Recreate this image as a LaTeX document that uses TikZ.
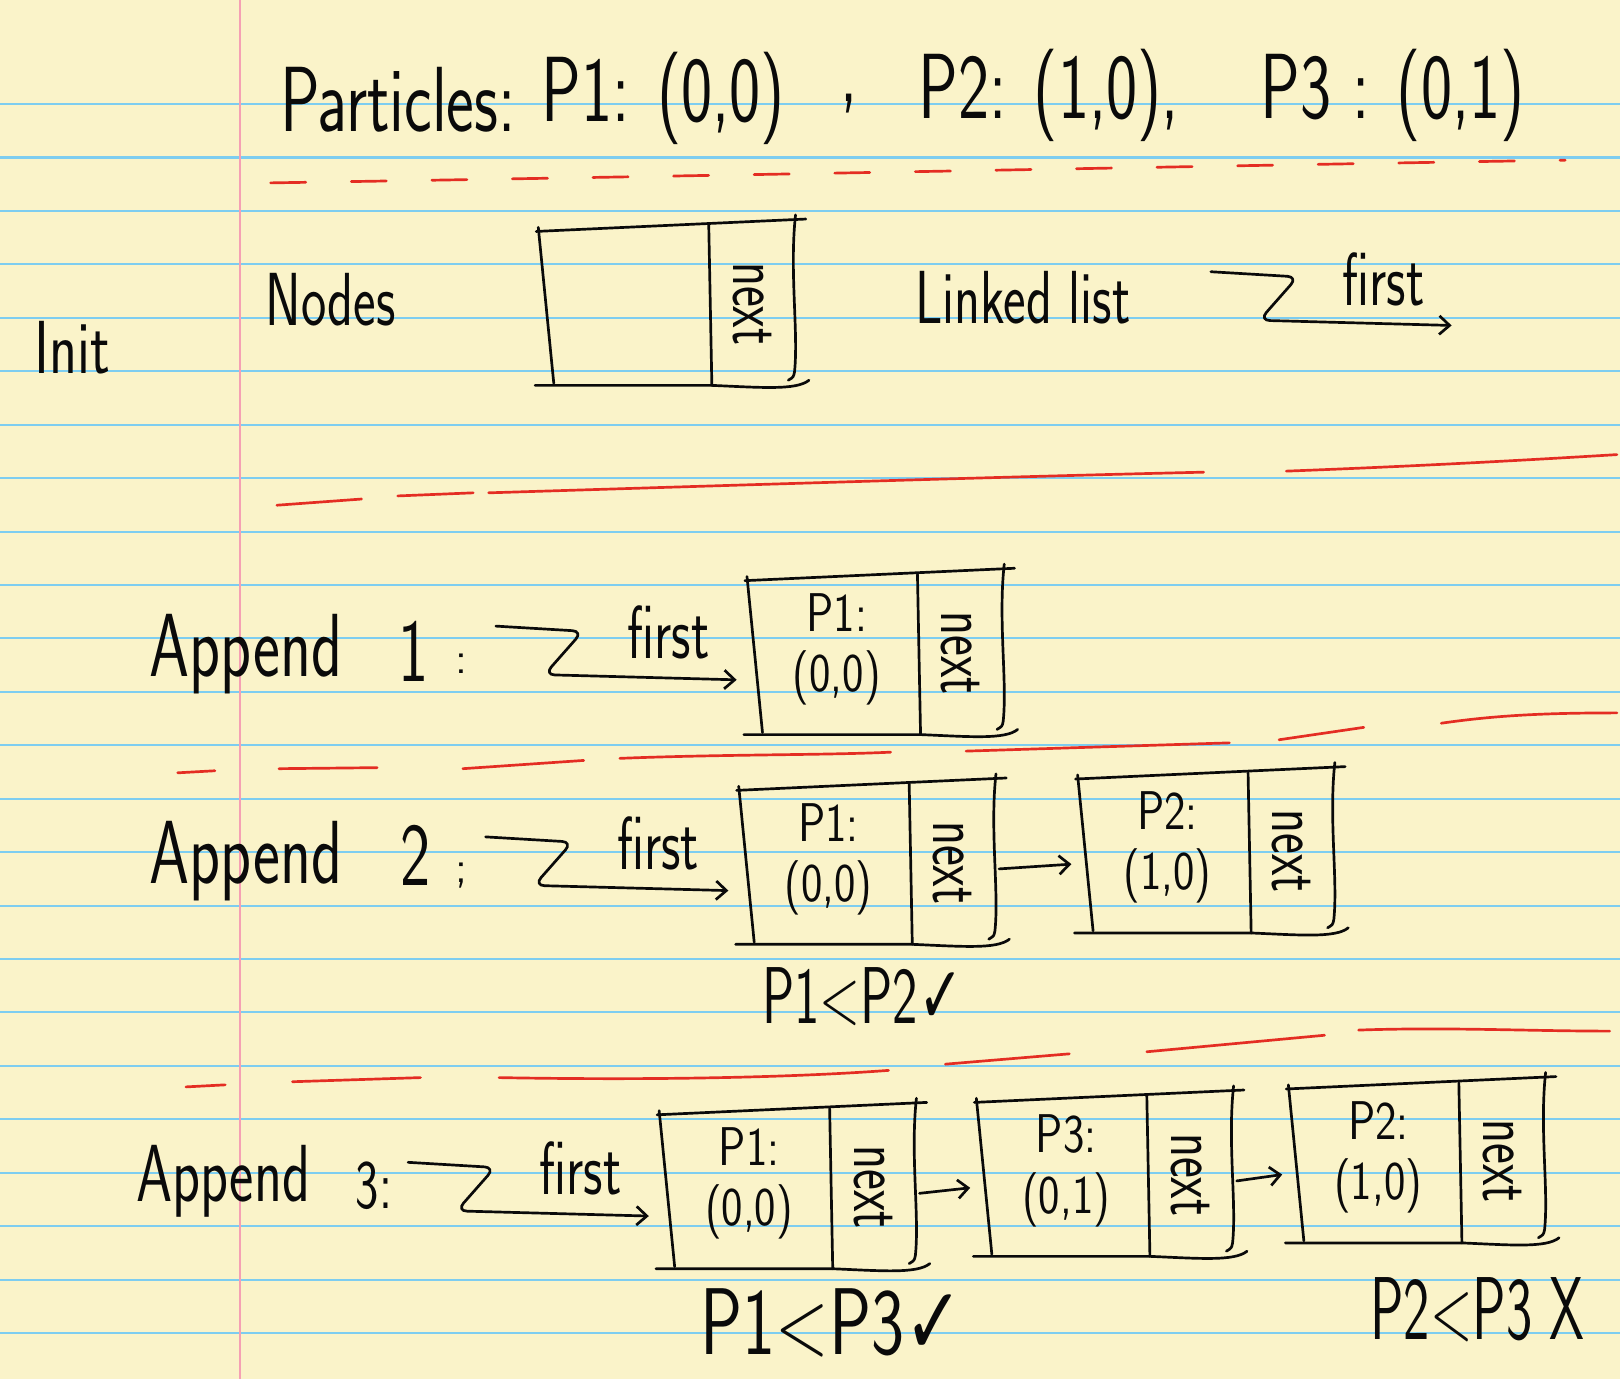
\documentclass[tikz,border=0pt]{standalone}
\usepackage{fontspec}
\usepackage{graphicx}
\usetikzlibrary{arrows.meta}
\newfontfamily\symf{DejaVu Sans}
\definecolor{paper}{RGB}{250,243,201}
\definecolor{rulecol}{RGB}{125,205,240}
\definecolor{margincol}{RGB}{245,160,180}
\definecolor{redpen}{RGB}{228,45,35}
\definecolor{ink}{RGB}{10,10,10}
\newcommand\stretchy[2]{\scalebox{1}[#1]{#2}}
\newcommand\cellfont{\sffamily\fontsize{22}{26}\selectfont}
\newcommand\nextfont{\sffamily\fontsize{24}{28}\selectfont}
\newcommand\firstfont{\sffamily\fontsize{26}{30}\selectfont}
\tikzset{
 pen/.style={draw=ink, line width=1.3pt, line cap=round, line join=round},
 redmark/.style={draw=redpen, line width=1.3pt, line cap=round},
 hand/.style={inner sep=0pt, text=ink, font=\sffamily},
 arr/.style={pen, -{Straight Barb[length=5pt,width=9pt]}},
}
\newcommand\cellframe[3]{%
\begin{scope}[shift={(#2,#3)}]
 \draw[pen] (-2,2) -- (259,-10);
 \draw[pen] (0,-2) -- (15,149);
 \draw[pen] (-3,151) -- (168,151) .. controls (215,153) and (250,156) .. (262,146);
 \draw[pen] (165,-4) -- (168,151);
 \draw[pen] (249,-14) .. controls (243,40) and (252,100) .. (248,138) .. controls (247,143) .. (242,146);
 \node[hand, rotate=-90, font=\nextfont] (#1-next) at (207,72) {\stretchy{1.4}{next}};
 \coordinate (#1-in) at (0,84);
 \coordinate (#1-out) at (252,78);
 \coordinate (#1-top) at (87,33);
 \coordinate (#1-bot) at (87,96);
\end{scope}}
\newcommand\cellvals[3]{%
 \node[hand, font=\cellfont] (#1-lab) at (#1-top) {\stretchy{1.2}{#2}};
 \node[hand, font=\cellfont] (#1-val) at (#1-bot) {\stretchy{1.2}{#3}};}
\begin{document}
\begin{tikzpicture}[x=0.5pt,y=-0.5pt]
\fill[paper] (0,0) rectangle (1568,1335);
\useasboundingbox (0,0) rectangle (1568,1335);
\foreach \k in {0,...,23} \draw[rulecol, line width=1pt] (0,{100.7+51.72*\k}) -- (1568,{100.7+51.72*\k});
\draw[margincol, line width=1pt] (232.3,0) -- (232.3,1335);

% title
\begin{scope}[every node/.style={hand, font=\sffamily\fontsize{32}{36}\selectfont}]
\node (t1) at (385,97) {\stretchy{1.4}{Particles:}};
\node (t2) at (642,95) {\stretchy{1.4}{P1: (0,0)}};
\node (t3) at (822,100) {\stretchy{1.4}{,}};
\node (t4) at (1015,92) {\stretchy{1.4}{P2: (1,0),}};
\node (t5) at (1348,92) {\stretchy{1.4}{P3 : (0,1)}};
\end{scope}

% red separators
\draw[redmark, dash pattern=on 17pt off 22pt] (262,177) .. controls (700,170) and (1200,160) .. (1515,155);
\draw[redmark] (268,489) -- (350,483);
\draw[redmark] (385,480) -- (458,477);
\draw[redmark] (473,477) .. controls (700,470) and (950,462) .. (1165,457);
\draw[redmark] (1245,456) .. controls (1350,452) and (1450,447) .. (1565,440);
\draw[redmark] (172,748) -- (208,746);
\draw[redmark] (270,744) -- (365,743);
\draw[redmark] (448,744) -- (565,736);
\draw[redmark] (600,734) .. controls (700,730) and (800,731) .. (862,728);
\draw[redmark] (935,727) -- (1190,719);
\draw[redmark] (1238,716) -- (1320,704);
\draw[redmark] (1395,700) .. controls (1450,692) and (1500,690) .. (1565,690);
\draw[redmark] (180,1052) -- (218,1050);
\draw[redmark] (283,1047) -- (407,1043);
\draw[redmark] (483,1043) .. controls (650,1046) and (780,1042) .. (860,1036);
\draw[redmark] (915,1030) -- (1035,1020);
\draw[redmark] (1110,1018) -- (1282,1002);
\draw[redmark] (1315,997) .. controls (1400,994) and (1480,998) .. (1558,998);

% Init row
\node[hand, font=\sffamily\fontsize{28}{32}\selectfont] (init) at (70,337) {\stretchy{1.3}{Init}};
\node[hand, font=\sffamily\fontsize{26}{30}\selectfont] (nodes) at (320,290) {\stretchy{1.4}{Nodes}};
\cellframe{c0}{521}{222}
\node[hand, font=\sffamily\fontsize{26}{30}\selectfont] (ll) at (990,288) {\stretchy{1.4}{Linked list}};
\coordinate (z0s) at (1172,263);
\coordinate (z0e) at (1405,315);
\draw[arr, rounded corners=5pt] (z0s) -- ++(84,5) -- ++(-37,42) -- (z0e);
\node[hand, font=\firstfont] (f0) at (1339,270) {\stretchy{1.4}{first}};

% Append 1
\node[hand, font=\sffamily\fontsize{31}{35}\selectfont] (ap1) at (238,633) {\stretchy{1.4}{Append}};
\node[hand, font=\sffamily\fontsize{31}{35}\selectfont] (ap1n) at (400,630) {\stretchy{1.4}{1}};
\node[hand, font=\sffamily\fontsize{22}{26}\selectfont] (ap1c) at (447,642) {:};
\coordinate (z1s) at (480,606);
\coordinate (z1e) at (713,658);
\draw[arr, rounded corners=5pt] (z1s) -- ++(84,5) -- ++(-37,42) -- (z1e);
\node[hand, font=\firstfont] (f1) at (647,612) {\stretchy{1.4}{first}};
\cellframe{a1p1}{723}{560}
\cellvals{a1p1}{P1:}{(0,0)}

% Append 2
\node[hand, font=\sffamily\fontsize{31}{35}\selectfont] (ap2) at (238,833) {\stretchy{1.4}{Append}};
\node[hand, font=\sffamily\fontsize{31}{35}\selectfont] (ap2n) at (402,828) {\stretchy{1.4}{2}};
\node[hand, font=\sffamily\fontsize{22}{26}\selectfont] (ap2c) at (447,847) {;};
\coordinate (z2s) at (470,810);
\coordinate (z2e) at (705,862);
\draw[arr, rounded corners=5pt] (z2s) -- ++(84,5) -- ++(-37,42) -- (z2e);
\node[hand, font=\firstfont] (f2) at (637,816) {\stretchy{1.4}{first}};
\cellframe{a2p1}{715}{763}
\cellvals{a2p1}{P1:}{(0,0)}
\cellframe{a2p2}{1043}{752}
\cellvals{a2p2}{P2:}{(1,0)}
\draw[arr, shorten >=3pt] (a2p1-out) -- (a2p2-in);
\node[hand, font=\sffamily\fontsize{26}{30}\selectfont] (cmp2) at (835,965) {\stretchy{1.5}{P1<P2{\symf ✓}}};

% Append 3
\node[hand, font=\sffamily\fontsize{28}{32}\selectfont] (ap3) at (216,1143) {\stretchy{1.4}{Append}};
\node[hand, font=\sffamily\fontsize{24}{28}\selectfont] (ap3n) at (362,1148) {\stretchy{1.4}{3:}};
\coordinate (z3s) at (395,1125);
\coordinate (z3e) at (628,1177);
\draw[arr, rounded corners=5pt] (z3s) -- ++(84,5) -- ++(-37,42) -- (z3e);
\node[hand, font=\firstfont] (f3) at (562,1131) {\stretchy{1.4}{first}};
\cellframe{a3p1}{638}{1077}
\cellvals{a3p1}{P1:}{(0,0)}
\cellframe{a3p2}{945}{1065}
\cellvals{a3p2}{P3:}{(0,1)}
\cellframe{a3p3}{1247}{1052}
\cellvals{a3p3}{P2:}{(1,0)}
\draw[arr, shorten >=3pt] (a3p1-out) -- (a3p2-in);
\draw[arr, shorten >=3pt] (a3p2-out) -- (a3p3-in);
\node[hand, font=\sffamily\fontsize{34}{38}\selectfont] (cmp3) at (805,1280) {\stretchy{1.35}{P1<P3{\symf ✓}}};
\node[hand, font=\sffamily\fontsize{27}{31}\selectfont] (cmp4) at (1430,1268) {\stretchy{1.6}{P2<P3 X}};
\end{tikzpicture}
\end{document}
